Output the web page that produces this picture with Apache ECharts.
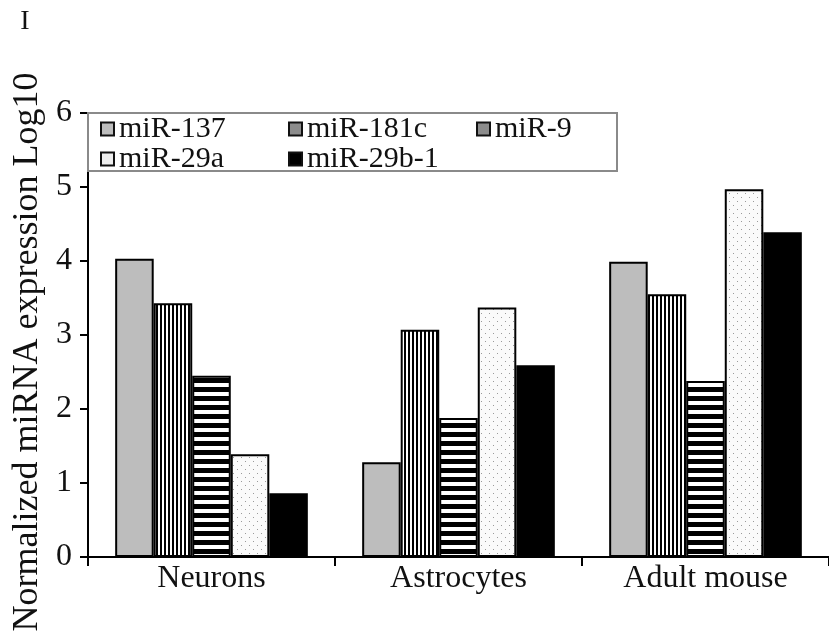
<!DOCTYPE html>
<html>
<head>
<meta charset="utf-8">
<script src="https://cdn.jsdelivr.net/npm/echarts@6/dist/echarts.min.js"></script>
<style>
  html, body { margin: 0; padding: 0; background: #fff; }
  #chart { width: 829px; height: 635px; }
</style>
</head>
<body>
<div id="chart"></div>
<script>
// Cell types on the x axis
const categories = ['Neurons', 'Astrocytes', 'Adult mouse'];

// Normalized miRNA expression (log10) per cell type
const mir137  = [4.03, 1.28, 3.99];
const mir181c = [3.43, 3.07, 3.55];
const mir9    = [2.45, 1.88, 2.38];
const mir29a  = [1.39, 3.37, 4.97];
const mir29b1 = [0.86, 2.59, 4.39];

const seriesNames = ['miR-137', 'miR-181c', 'miR-9', 'miR-29a', 'miR-29b-1'];
const yTicks = [0, 1, 2, 3, 4, 5, 6];

const FONT = '"Liberation Serif", "Times New Roman", serif';

// Small canvases used as repeating fills for the hatched bars
function makePattern(w, h, draw) {
  const c = document.createElement('canvas');
  c.width = w; c.height = h;
  const ctx = c.getContext('2d');
  draw(ctx, w, h);
  return { image: c, repeat: 'repeat' };
}

const vertStripes = makePattern(4, 4, (ctx, w, h) => {
  ctx.fillStyle = '#ffffff'; ctx.fillRect(0, 0, w, h);
  ctx.fillStyle = '#000000'; ctx.fillRect(0, 0, 2, h);
});

const horizStripes = makePattern(8, 9, (ctx, w, h) => {
  ctx.fillStyle = '#ffffff'; ctx.fillRect(0, 0, w, h);
  ctx.fillStyle = '#000000'; ctx.fillRect(0, 0, w, 5);
});

const dots = makePattern(8, 8, (ctx, w, h) => {
  ctx.fillStyle = '#fafafa'; ctx.fillRect(0, 0, w, h);
  ctx.fillStyle = '#9a9a9a';
  ctx.fillRect(1, 1, 1, 1);
  ctx.fillRect(5, 5, 1, 1);
});

const fills = ['#bdbdbd', vertStripes, horizStripes, dots, '#000000'];
const legendFills = ['#bdbdbd', '#8c8c8c', '#8c8c8c', '#eeeeee', '#000000'];
const values = [mir137, mir181c, mir9, mir29a, mir29b1];

const chart = echarts.init(document.getElementById('chart'), null, { renderer: 'canvas' });

chart.setOption({
  animation: false,
  backgroundColor: '#ffffff',
  grid: { left: 88, top: 113, right: -4, bottom: 78, containLabel: false },
  legend: {
    left: 100,
    top: 114,
    width: 570,
    padding: 0,
    itemGap: 0,
    itemWidth: 13,
    itemHeight: 13,
    icon: 'rect',
    textStyle: { fontFamily: FONT, fontSize: 30, color: '#111', width: 169, lineHeight: 28 },
    data: seriesNames.map((n, i) => ({
      name: n,
      itemStyle: { color: legendFills[i], borderColor: '#111', borderWidth: 2 }
    }))
  },
  graphic: [
    {
      type: 'rect',
      shape: { x: 88, y: 113, width: 529, height: 58 },
      style: { fill: 'none', stroke: '#8a8a8a', lineWidth: 2 },
      z: 10
    },
    {
      type: 'text',
      x: 25, y: 22,
      style: { text: 'I', font: '28px ' + FONT, fill: '#111', align: 'center', verticalAlign: 'middle' }
    },
    {
      type: 'text',
      x: 28, y: 352,
      rotation: Math.PI / 2,
      style: {
        text: 'Normalized miRNA expression Log10',
        font: '36px ' + FONT, fill: '#111', align: 'center', verticalAlign: 'middle'
      }
    }
  ],
  xAxis: {
    type: 'category',
    data: categories,
    boundaryGap: true,
    axisLine: { lineStyle: { color: '#000', width: 2 } },
    axisTick: { show: true, inside: false, length: 9, alignWithLabel: false, lineStyle: { color: '#000', width: 2 } },
    axisLabel: { fontFamily: FONT, fontSize: 32, color: '#111', margin: 6 },
    splitLine: { show: false }
  },
  yAxis: {
    type: 'value',
    min: yTicks[0],
    max: yTicks[yTicks.length - 1],
    interval: 1,
    axisLine: { show: true, lineStyle: { color: '#000', width: 2 } },
    axisTick: { show: true, inside: false, length: 8, lineStyle: { color: '#000', width: 2 } },
    axisLabel: { fontFamily: FONT, fontSize: 32, color: '#111', margin: 16 },
    splitLine: { show: false }
  },
  series: seriesNames.map((n, i) => ({
    name: n,
    type: 'bar',
    data: values[i],
    barGap: '0%',
    barCategoryGap: '22%',
    itemStyle: { color: fills[i], borderColor: '#000', borderWidth: 2 }
  }))
});
</script>
</body>
</html>
